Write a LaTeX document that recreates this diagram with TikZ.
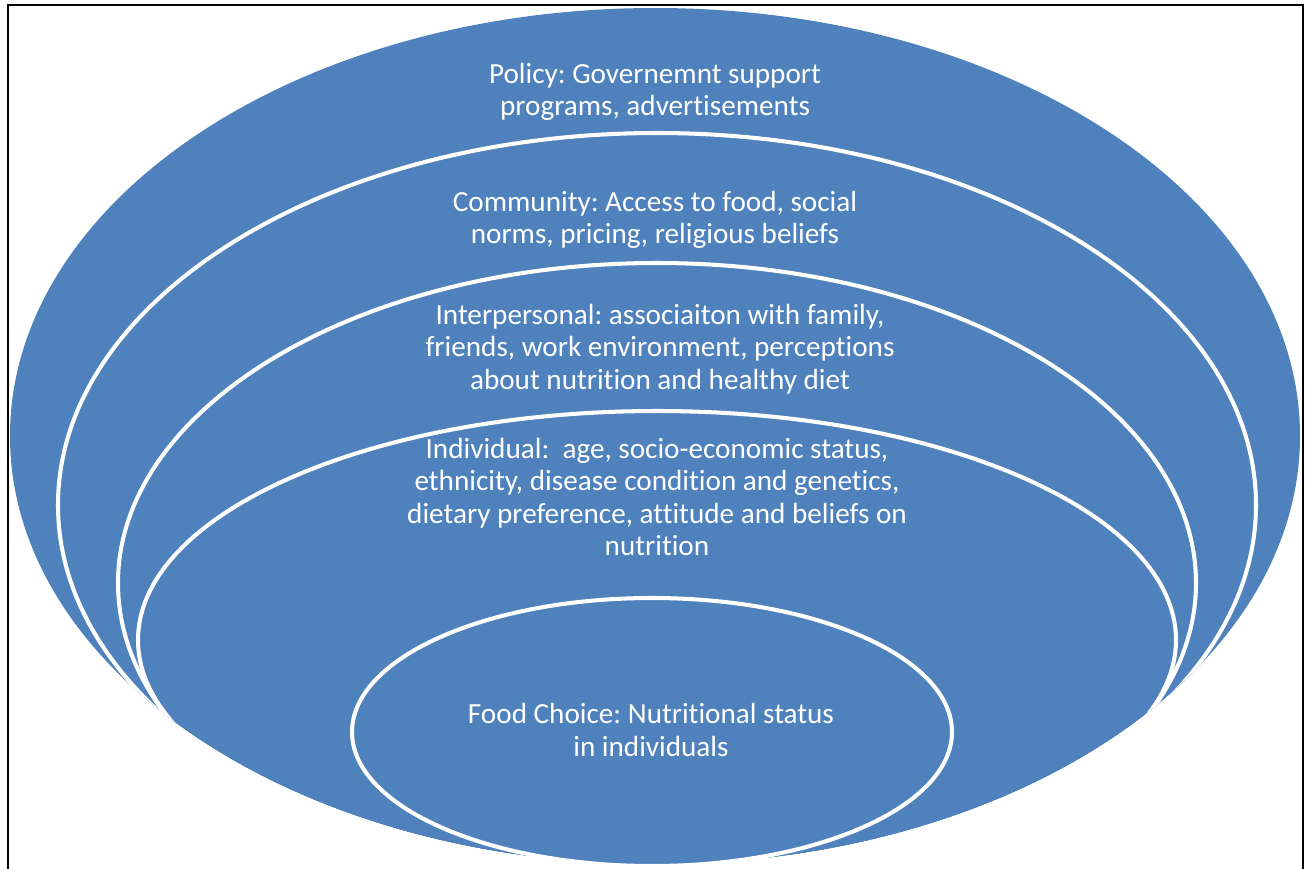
\documentclass[tikz,border=0pt]{standalone}
\usepackage{fontspec}
\setmainfont{Carlito}[Ligatures=NoCommon]
\frenchspacing
\definecolor{ringblue}{HTML}{4F81BD}

\begin{document}
\begin{tikzpicture}[x=0.01cm,y=-0.01cm,
 ring line/.style={draw=white,line width=1.15pt},
 layer text/.style={text=white,align=center,inner sep=0pt,
   font=\fontsize{8.3}{9.25}\selectfont}]
 \useasboundingbox (0,0) rectangle (1311,869);
 \draw[line width=0.6pt] (8,869) -- (8,5) -- (1303,5) -- (1303,869);

 % filled rings, outer one first
 \fill[ringblue] (655,436) ellipse [x radius=645,y radius=428];
 \begin{scope}
  \clip (655,436) ellipse [x radius=645,y radius=428];
  \foreach \cx/\cy/\rx/\ry in {657/505/599/372, 657/583/539/320, 657/640/519/229}{
     \fill[ringblue] (\cx,\cy) ellipse [x radius=\rx,y radius=\ry];}
 \end{scope}
 \fill[ringblue] (652,732) ellipse [x radius=300,y radius=134];

 \node[layer text](policy) at (655,92){Policy: Governemnt support\\programs, advertisements};
 \node[layer text](community) at (655,220){Community: Access to food, social\\norms, pricing, religious beliefs};
 \node[layer text](interpersonal) at (660,349){Interpersonal: associaiton with family,\\friends, work environment, perceptions\\about nutrition and healthy diet};
 \node[layer text](individual) at (657,497){Individual:~ age, socio-economic status,\\ethnicity, disease condition and genetics,\\dietary preference, attitude and beliefs on\\nutrition};
 \node[layer text](foodchoice) at (651,730){Food Choice: Nutritional status\\in individuals};

 % white outlines on top
 \begin{scope}
  \clip (655,436) ellipse [x radius=645,y radius=428];
  \foreach \cx/\cy/\rx/\ry in {657/505/599/372, 657/583/539/320, 657/640/519/229}{
     \draw[ring line] (\cx,\cy) ellipse [x radius=\rx,y radius=\ry];}
 \end{scope}
 \draw[ring line] (652,732) ellipse [x radius=300,y radius=134];
\end{tikzpicture}
\end{document}
